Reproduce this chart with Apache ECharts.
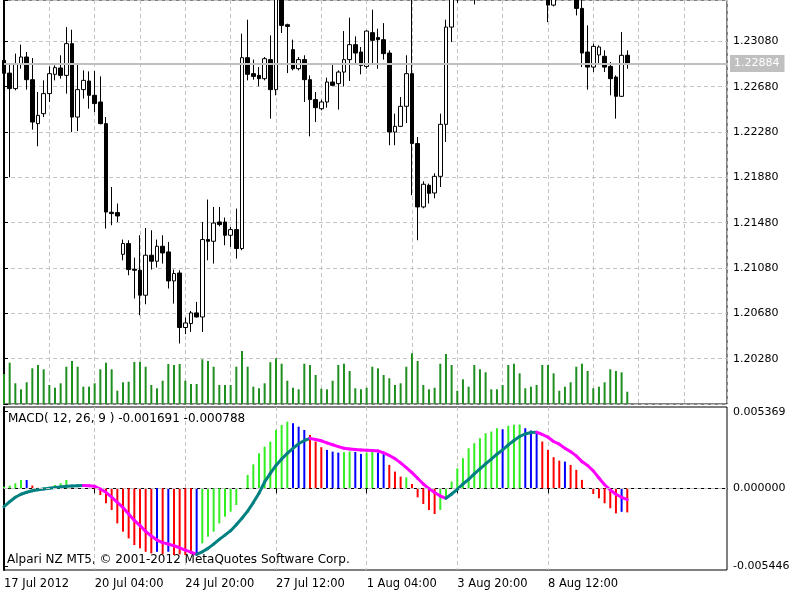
<!DOCTYPE html>
<html>
<head>
<meta charset="utf-8">
<title>EURUSD H4 MACD</title>
<script src="https://cdn.jsdelivr.net/npm/echarts@6/dist/echarts.min.js"></script>
<style>
  html, body { margin: 0; padding: 0; background: #fff; }
  #chart { width: 800px; height: 600px; }
</style>
</head>
<body>
<div id="chart"></div>
<script>
// H4 bars, index 0 = 17 Jul 2012
const timeLabelIndex = [0, 16, 32, 48, 64, 80, 96]
const timeLabels = ['17 Jul 2012', '20 Jul 04:00', '24 Jul 20:00', '27 Jul 12:00', '1 Aug 04:00', '3 Aug 20:00', '8 Aug 12:00']

const openP = [
  1.22912, 1.22800, 1.22663, 1.22883, 1.22942, 1.22742, 1.22354, 1.22442, 1.22619, 1.22789,
  1.22845, 1.22780, 1.23060, 1.22412, 1.22654, 1.22730, 1.22604, 1.22545, 1.22354, 1.21572,
  1.21569, 1.21201, 1.21296, 1.21069, 1.21060, 1.20840, 1.21193, 1.21140, 1.21272, 1.21222,
  1.20966, 1.21036, 1.20555, 1.20590, 1.20684, 1.20648, 1.21331, 1.21316, 1.21486, 1.21486,
  1.21369, 1.21419, 1.21252, 1.22936, 1.22795, 1.22780, 1.22751, 1.22919, 1.22654, 1.23574,
  1.23227, 1.23007, 1.22839, 1.22919, 1.22742, 1.22566, 1.22486, 1.22545, 1.22721, 1.22707,
  1.22809, 1.22919, 1.23051, 1.22986, 1.22859, 1.23157, 1.23113, 1.23095, 1.22977, 1.22280,
  1.22330, 1.22507, 1.22795, 1.22178, 1.21619, 1.21810, 1.21742, 1.21889, 1.22348, 1.23206,
  1.23486, 1.23580, 1.23520, 1.23640, 1.23480, 1.23700, 1.23850, 1.23800, 1.23760, 1.23860,
  1.23940, 1.23880, 1.23800, 1.23720, 1.23780, 1.23700, 1.23580, 1.23400, 1.23500, 1.23600,
  1.23540, 1.23500, 1.23371, 1.22986, 1.22853, 1.22960, 1.22948, 1.22859, 1.22765, 1.22595,
  1.22957
]
const highP = [
  1.22957, 1.22886, 1.22972, 1.23051, 1.22986, 1.22933, 1.22633, 1.22736, 1.22859, 1.22868,
  1.22957, 1.23206, 1.23183, 1.22883, 1.22824, 1.22815, 1.22818, 1.22771, 1.22412, 1.21795,
  1.21649, 1.21331, 1.21325, 1.21172, 1.21369, 1.21433, 1.21413, 1.21331, 1.21369, 1.21310,
  1.21066, 1.21060, 1.20643, 1.20701, 1.20781, 1.21486, 1.21684, 1.21619, 1.21619, 1.21525,
  1.21442, 1.21604, 1.23148, 1.23271, 1.22919, 1.22853, 1.22942, 1.23133, 1.23662, 1.23706,
  1.23236, 1.23095, 1.22942, 1.22957, 1.22780, 1.22633, 1.22566, 1.22760, 1.22883, 1.22824,
  1.23171, 1.23289, 1.23124, 1.23030, 1.23177, 1.23360, 1.23192, 1.23241, 1.23001, 1.22442,
  1.22589, 1.22957, 1.24050, 1.22236, 1.21845, 1.21825, 1.21916, 1.22442, 1.23271, 1.23574,
  1.23620, 1.23700, 1.23680, 1.23720, 1.23760, 1.23900, 1.23960, 1.23880, 1.23900, 1.24000,
  1.24040, 1.23960, 1.23880, 1.23820, 1.23860, 1.23760, 1.23640, 1.23560, 1.23640, 1.23680,
  1.23600, 1.23560, 1.23530, 1.23221, 1.23060, 1.23045, 1.23001, 1.22897, 1.22780, 1.23162,
  1.23001
]
const lowP = [
  1.22771, 1.21880, 1.22648, 1.22839, 1.22654, 1.22301, 1.22154, 1.22412, 1.22545, 1.22736,
  1.22751, 1.22619, 1.22280, 1.22289, 1.22575, 1.22486, 1.22456, 1.22348, 1.21428, 1.21457,
  1.21486, 1.21148, 1.21016, 1.20811, 1.20663, 1.20760, 1.21066, 1.21084, 1.21119, 1.20899,
  1.20766, 1.20414, 1.20496, 1.20516, 1.20643, 1.20516, 1.21148, 1.21119, 1.21448, 1.21281,
  1.21266, 1.21163, 1.21237, 1.22736, 1.22742, 1.22683, 1.22736, 1.22398, 1.22604, 1.23153,
  1.22800, 1.22824, 1.22824, 1.22545, 1.22242, 1.22368, 1.22471, 1.22495, 1.22683, 1.22478,
  1.22683, 1.22730, 1.22889, 1.22789, 1.22839, 1.22889, 1.22839, 1.22919, 1.22163, 1.22163,
  1.22324, 1.22359, 1.21722, 1.21325, 1.21607, 1.21649, 1.21695, 1.21795, 1.22192, 1.23074,
  1.23420, 1.23480, 1.23460, 1.23406, 1.23450, 1.23650, 1.23740, 1.23700, 1.23720, 1.23800,
  1.23820, 1.23760, 1.23680, 1.23640, 1.23660, 1.23540, 1.23250, 1.23389, 1.23460, 1.23500,
  1.23460, 1.23309, 1.22853, 1.22654, 1.22809, 1.22889, 1.22809, 1.22604, 1.22398, 1.22589,
  1.22839
]
const closeP = [
  1.22798, 1.22663, 1.22883, 1.22942, 1.22742, 1.22368, 1.22427, 1.22619, 1.22795, 1.22848,
  1.22780, 1.23060, 1.22412, 1.22654, 1.22736, 1.22604, 1.22531, 1.22354, 1.21574, 1.21560,
  1.21539, 1.21296, 1.21066, 1.21060, 1.20840, 1.21193, 1.21140, 1.21272, 1.21213, 1.20966,
  1.21031, 1.20555, 1.20595, 1.20684, 1.20648, 1.21331, 1.21316, 1.21477, 1.21463, 1.21369,
  1.21419, 1.21252, 1.22936, 1.22789, 1.22771, 1.22751, 1.22927, 1.22654, 1.23574, 1.23221,
  1.23212, 1.22839, 1.22919, 1.22742, 1.22566, 1.22495, 1.22545, 1.22721, 1.22692, 1.22809,
  1.22919, 1.23051, 1.22977, 1.22868, 1.23171, 1.23089, 1.23095, 1.22972, 1.22280, 1.22330,
  1.22507, 1.22795, 1.22178, 1.21619, 1.21819, 1.21739, 1.21889, 1.22348, 1.23206, 1.23486,
  1.23580, 1.23520, 1.23640, 1.23480, 1.23700, 1.23850, 1.23800, 1.23760, 1.23860, 1.23940,
  1.23880, 1.23800, 1.23720, 1.23780, 1.23700, 1.23580, 1.23400, 1.23500, 1.23600, 1.23540,
  1.23500, 1.23371, 1.22977, 1.22853, 1.23036, 1.23030, 1.22853, 1.22751, 1.22595, 1.22957,
  1.22884
]
const tickVolume = [
  3000, 4130, 2070, 1470, 2170, 3570, 3900, 3470, 1900, 1630,
  2070, 3730, 4300, 3730, 1730, 1730, 2070, 3470, 4130, 3470,
  1330, 2170, 2230, 4200, 4230, 3730, 1900, 1570, 2330, 4000,
  3900, 4000, 2330, 2000, 2000, 4470, 4300, 3730, 1900, 1900,
  1900, 3730, 5300, 3730, 1730, 1570, 2070, 4170, 4570, 4030,
  2330, 1630, 1470, 4030, 3900, 2900, 1530, 1470, 2330, 3900,
  4030, 3300, 1570, 1470, 1630, 3730, 3570, 2900, 2570, 1900,
  2070, 3730, 5070, 4300, 1900, 1470, 1630, 4030, 5000, 3900,
  1330, 2470, 1730, 3900, 3470, 3170, 1470, 1470, 1900, 3900,
  4030, 3070, 1570, 1730, 1900, 3900, 3900, 3070, 1330, 1730,
  2170, 3730, 4030, 3300, 1570, 1730, 2170, 3470, 3300, 3170,
  1230
]
const macdMain = [
  0.00010, 0.00019, 0.00035, 0.00058, 0.00058, 0.00019, 0.00003, 0.00005, 0.00010, 0.00023,
  0.00035, 0.00058, 0.00004, 0.00002, 0.00001, -0.00002, -0.00006, -0.00047, -0.00105, -0.00152,
  -0.00246, -0.00304, -0.00351, -0.00398, -0.00421, -0.00445, -0.00456, -0.00445, -0.00461, -0.00445,
  -0.00468, -0.00463, -0.00468, -0.00461, -0.00456, -0.00386, -0.00339, -0.00304, -0.00246, -0.00199,
  -0.00164, -0.00117, -0.00005, 0.00093, 0.00168, 0.00245, 0.00292, 0.00327, 0.00409, 0.00444,
  0.00467, 0.00456, 0.00432, 0.00409, 0.00374, 0.00328, 0.00288, 0.00269, 0.00257, 0.00250,
  0.00253, 0.00257, 0.00255, 0.00241, 0.00250, 0.00257, 0.00250, 0.00241, 0.00164, 0.00117,
  0.00082, 0.00077, 0.00030, -0.00063, -0.00110, -0.00152, -0.00180, -0.00152, -0.00059, 0.00047,
  0.00140, 0.00211, 0.00281, 0.00316, 0.00351, 0.00386, 0.00398, 0.00421, 0.00414, 0.00438,
  0.00445, 0.00447, 0.00421, 0.00405, 0.00398, 0.00328, 0.00269, 0.00218, 0.00194, 0.00187,
  0.00164, 0.00129, 0.00059, 0.00003, -0.00040, -0.00070, -0.00105, -0.00140, -0.00176, -0.00165,
  -0.001691
]
// histogram colour per bar: g = green, r = red, b = blue
const macdColor = [
  'g', 'g', 'g', 'g', 'b', 'r', 'r', 'g', 'g', 'g',
  'g', 'g', 'r', 'r', 'r', 'r', 'r', 'r', 'r', 'r',
  'r', 'r', 'r', 'r', 'r', 'r', 'r', 'b', 'r', 'b',
  'r', 'r', 'r', 'r', 'b', 'g', 'g', 'g', 'g', 'g',
  'g', 'g', 'g', 'g', 'g', 'g', 'g', 'g', 'g', 'g',
  'g', 'b', 'b', 'b', 'r', 'r', 'r', 'b', 'b', 'b',
  'g', 'g', 'b', 'b', 'g', 'g', 'b', 'b', 'r', 'r',
  'r', 'g', 'r', 'r', 'r', 'r', 'r', 'g', 'g', 'g',
  'g', 'g', 'g', 'g', 'g', 'g', 'g', 'g', 'b', 'g',
  'g', 'g', 'b', 'b', 'b', 'r', 'r', 'r', 'r', 'b',
  'r', 'r', 'r', 'r', 'r', 'r', 'r', 'r', 'r', 'b',
  'r'
]
const macdSignal = [
  -0.00129, -0.00094, -0.00063, -0.00042, -0.00028, -0.00017, -0.00010, -0.00005, 0.00000, 0.00005,
  0.00009, 0.00014, 0.00016, 0.00018, 0.00019, 0.00017, 0.00014, -0.00005, -0.00028, -0.00062,
  -0.00098, -0.00135, -0.00180, -0.00225, -0.00262, -0.00302, -0.00335, -0.00363, -0.00381, -0.00391,
  -0.00403, -0.00417, -0.00433, -0.00447, -0.00463, -0.00445, -0.00421, -0.00391, -0.00358, -0.00328,
  -0.00297, -0.00255, -0.00210, -0.00160, -0.00100, -0.00035, 0.00045, 0.00105, 0.00160, 0.00205,
  0.00245, 0.00280, 0.00312, 0.00335, 0.00350, 0.00342, 0.00333, 0.00318, 0.00305, 0.00292,
  0.00281, 0.00276, 0.00272, 0.00269, 0.00267, 0.00265, 0.00262, 0.00248, 0.00230, 0.00208,
  0.00178, 0.00145, 0.00110, 0.00070, 0.00030, -0.00002, -0.00030, -0.00054, -0.00070, -0.00040,
  -0.00007, 0.00030, 0.00063, 0.00101, 0.00136, 0.00171, 0.00204, 0.00239, 0.00269, 0.00304,
  0.00335, 0.00363, 0.00381, 0.00391, 0.00393, 0.00377, 0.00358, 0.00328, 0.00309, 0.00281,
  0.00257, 0.00227, 0.00187, 0.00160, 0.00122, 0.00072, 0.00025, -0.00012, -0.00042, -0.00063,
  -0.000788
]

const lastIndex = closeP.length - 1
const lastPrice = closeP[lastIndex]
const priceMin = 1.1988
const priceStep = 0.004
const histColors = { g: '#33ee22', r: '#ff0000', b: '#0000ff' }
const gridColor = '#c4c4c4'
const font = '"DejaVu Sans", Tahoma, sans-serif'

const chart = echarts.init(document.getElementById('chart'), null, { renderer: 'canvas' })

const dashed = { show: true, lineStyle: { color: gridColor, type: [4, 3], width: 1 } }

// price label only on whole steps from min (the top edge tick stays blank)
const priceLabel = (v) => {
  const n = (v - priceMin) / priceStep
  if (Math.abs(n - Math.round(n)) > 0.01 || Math.round(n) === 0) return ''
  return v.toFixed(5)
}

const option = {
  animation: false,
  backgroundColor: '#ffffff',
  textStyle: { fontFamily: font, fontSize: 11, color: '#000' },
  grid: [
    { left: 4, right: 73, top: 0, height: 404, show: true, borderColor: '#000', borderWidth: 1 },
    { left: 4, right: 73, top: 407, height: 163, show: true, borderColor: '#000', borderWidth: 1 },
  ],
  xAxis: [
    {
      type: 'value', gridIndex: 0, min: 0, max: 127.6, interval: 8,
      axisLine: { show: false }, axisTick: { show: false }, axisLabel: { show: false },
      splitLine: dashed,
    },
    {
      type: 'value', gridIndex: 1, min: 0, max: 127.6, interval: 8,
      axisLine: { show: true, lineStyle: { color: '#000' } },
      axisTick: { show: true, length: 5, customValues: timeLabelIndex, lineStyle: { color: '#000' } },
      axisLabel: {
        show: true, customValues: timeLabelIndex, align: 'left', margin: 8,
        fontFamily: font, fontSize: 11.5, color: '#000',
        formatter: (v) => {
          const i = timeLabelIndex.indexOf(Math.round(v))
          return i >= 0 ? timeLabels[i] : ''
        },
      },
      splitLine: dashed,
    },
  ],
  yAxis: [
    {
      type: 'value', gridIndex: 0, position: 'right', min: priceMin, max: 1.23445, interval: priceStep,
      axisLine: { show: true, lineStyle: { color: '#000', width: 2 } },
      axisTick: { show: true, length: 4, lineStyle: { color: '#000' } },
      axisLabel: { margin: 6, fontFamily: font, fontSize: 11, color: '#000', formatter: priceLabel },
      splitLine: dashed,
    },
    { type: 'value', gridIndex: 0, min: 0, max: 40400, show: false, splitLine: { show: false } },
    {
      type: 'value', gridIndex: 1, position: 'right', min: -0.005727, max: 0.005698,
      axisLine: { show: true, lineStyle: { color: '#000', width: 2 } },
      axisTick: { show: true, length: 4, customValues: [0.005369, 0, -0.005446], lineStyle: { color: '#000' } },
      axisLabel: {
        margin: 6, fontFamily: font, fontSize: 11, color: '#000',
        customValues: [0.005369, 0, -0.005446],
        formatter: (v) => v.toFixed(6),
      },
      splitLine: { show: false },
    },
  ],
  graphic: [
    {
      type: 'text', left: 8, top: 413, silent: true,
      style: {
        text: 'MACD( 12, 26, 9 ) ' + macdMain[lastIndex].toFixed(6) + ' ' + macdSignal[lastIndex].toFixed(6),
        font: '12px ' + font, fill: '#000',
      },
    },
    {
      type: 'text', left: 7, top: 554, silent: true,
      style: { text: 'Alpari NZ MT5, © 2001-2012 MetaQuotes Software Corp.', font: '12px ' + font, fill: '#000' },
    },
  ],
  series: [
    {
      name: 'Volumes', type: 'bar', xAxisIndex: 0, yAxisIndex: 1,
      barWidth: 2, itemStyle: { color: '#1f8f1f' },
      data: tickVolume.map((v, i) => [i, v]),
    },
    {
      // current bid line and its label on the price scale
      name: 'Bid', type: 'line', xAxisIndex: 0, yAxisIndex: 0,
      showSymbol: false, symbol: 'none', lineStyle: { opacity: 0 },
      data: [[lastIndex, lastPrice]],
      markLine: {
        silent: true, symbol: 'none', animation: false, precision: 5,
        lineStyle: { color: '#c0c0c0', type: 'solid', width: 2 },
        label: {
          position: 'end', distance: 3, formatter: lastPrice.toFixed(5),
          color: '#ffffff', backgroundColor: '#c0c0c0', padding: [3, 5, 3, 4],
          fontFamily: font, fontSize: 11,
        },
        data: [{ yAxis: lastPrice }],
      },
      z: 1,
    },
    {
      name: 'EURUSD,H4', type: 'candlestick', xAxisIndex: 0, yAxisIndex: 0,
      barWidth: 4,
      encode: { x: 0, y: [1, 2, 3, 4] },
      itemStyle: { color: '#ffffff', color0: '#000000', borderColor: '#000000', borderColor0: '#000000', borderWidth: 1 },
      data: openP.map((o, i) => [i, o, closeP[i], lowP[i], highP[i]]),
      z: 2,
    },
    {
      name: 'MACD', type: 'bar', xAxisIndex: 1, yAxisIndex: 2, barWidth: 2,
      data: macdMain.map((v, i) => ({ value: [i, v], itemStyle: { color: histColors[macdColor[i]] } })),
      markLine: {
        silent: true, symbol: 'none', animation: false, label: { show: false },
        lineStyle: { color: gridColor, type: [4, 3], width: 1 },
        data: [{ yAxis: 0 }],
      },
    },
    {
      name: 'Signal', type: 'custom', xAxisIndex: 1, yAxisIndex: 2,
      data: macdSignal.map((v, i) => [i, v]),
      renderItem: (params, api) => {
        const i = params.dataIndex
        if (i === 0) return null
        const p0 = api.coord([i - 1, macdSignal[i - 1]])
        const p1 = api.coord([i, macdSignal[i]])
        const rising = macdSignal[i] >= macdSignal[i - 1]
        return {
          type: 'line',
          shape: { x1: p0[0], y1: p0[1], x2: p1[0], y2: p1[1] },
          style: { stroke: rising ? '#008080' : '#ff00ff', lineWidth: 3, lineCap: 'round' },
        }
      },
      z: 3,
    },
  ],
}

chart.setOption(option)
</script>
</body>
</html>
